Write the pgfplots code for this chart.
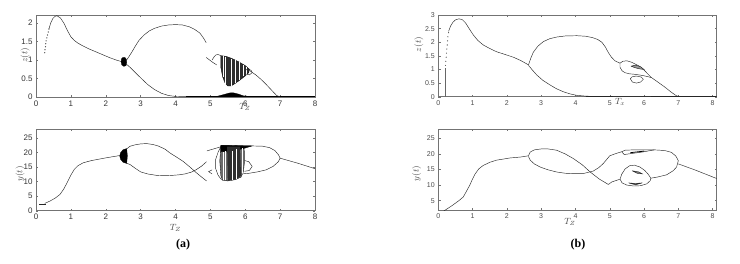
\documentclass[border=0pt]{standalone}
\usepackage{pgfplots}
\pgfplotsset{compat=1.18}
\usepackage{fontspec}
\setmainfont{Liberation Sans}
\newfontfamily\capfont{Liberation Serif}
\begin{document}
\begin{tikzpicture}
\path[use as bounding box] (0pt,0pt) rectangle (740pt,263pt);
\pgfplotsset{
  panel/.style={scale only axis, anchor=south west, xmin=0, xmax=8, xtick={0,1,...,8},
    tick align=inside, tick pos=both, major tick length=2.2pt,
    axis line style={black!55, line width=0.5pt}, tick style={black!55, line width=0.4pt},
    tick label style={font=\fontsize{8}{9}\selectfont, text=black!80},
    /pgf/number format/assume math mode=true,
    label style={font=\fontsize{9}{10}\selectfont, text=black!70}},
  panelb/.style={panel, tick label style={font=\fontsize{7}{8}\selectfont, text=black!70}},
  cl/.style={black!85, line width=0.45pt, no markers},
  fl/.style={draw=black, line width=0.3pt, fill=black},
  wl/.style={white, line width=0.3pt, no markers},
}
% ---------------- (a) top ----------------
\begin{axis}[panel, at={(36pt,166pt)}, width=279pt, height=82pt,
  ymin=0, ymax=2.22, ytick={0,0.5,1,1.5,2}, yticklabels={0,0.5,1,1.5,2},
  xlabel={$T_Z$}, ylabel={$z(t)$},
  xlabel style={at={(axis description cs:0.749,-0.118)}, anchor=center},
  ylabel style={at={(axis description cs:-0.039,0.51)}, anchor=center}]
\addplot[only marks, mark=*, mark size=0.35pt, black!70] coordinates {(0.25,1.2)(0.26,1.28)(0.27,1.36)(0.28,1.44)(0.29,1.52)(0.31,1.6)(0.33,1.68)(0.35,1.76)(0.37,1.84)};
\addplot[cl] coordinates {(0.37,1.84)(0.42,2.0)(0.48,2.12)(0.54,2.18)(0.6,2.2)(0.7,2.14)(0.8,2.0)(0.9,1.8)(1.0,1.63)(1.1,1.53)(1.2,1.46)(1.35,1.38)(1.5,1.31)(1.7,1.23)(1.9,1.15)(2.1,1.07)(2.3,1.0)(2.45,0.96)};
\addplot[fl] coordinates {(2.44,0.95)(2.45,1.03)(2.49,1.07)(2.55,1.07)(2.59,1.02)(2.6,0.93)(2.58,0.85)(2.52,0.83)(2.46,0.87)(2.44,0.95)};
\addplot[cl] coordinates {(2.58,0.98)(2.65,1.07)(2.75,1.22)(2.85,1.38)(2.95,1.53)(3.1,1.68)(3.25,1.79)(3.4,1.86)(3.6,1.92)(3.8,1.95)(4.0,1.96)(4.2,1.95)(4.4,1.9)(4.55,1.83)(4.7,1.73)(4.8,1.6)(4.88,1.47)};
\addplot[cl] coordinates {(2.58,0.9)(2.7,0.8)(2.85,0.66)(3.0,0.52)(3.2,0.34)(3.4,0.2)(3.6,0.1)(3.8,0.04)(4.0,0.015)(4.3,0.008)(5.0,0.008)};
\addplot[black, line width=0.5pt, no markers] coordinates {(4.3,0.008)(6.8,0.008)};
\addplot[black, line width=0.9pt, no markers] coordinates {(6.8,0.01)(8,0.01)};
\addplot[fl] coordinates {(4.95,0.005)(5.2,0.02)(5.4,0.07)(5.55,0.11)(5.65,0.115)(5.8,0.08)(5.95,0.03)(6.3,0.005)(4.95,0.005)};
\addplot[cl] coordinates {(4.88,1.07)(4.98,1.0)(5.08,0.93)(5.18,0.87)};
\addplot[cl] coordinates {(5.05,1.0)(5.1,1.08)(5.16,1.14)(5.22,1.15)(5.3,1.12)};
\addplot[draw=black, line width=0.3pt, fill=black!82] coordinates {(5.3,1.12)(5.45,1.1)(5.6,1.05)(5.8,0.96)(6.0,0.85)(6.12,0.75)(6.1,0.66)(6.0,0.57)(5.85,0.46)(5.7,0.36)(5.6,0.3)(5.5,0.3)(5.42,0.38)(5.35,0.55)(5.3,0.8)(5.3,1.12)};
\addplot[white, line width=0.8pt, no markers] coordinates {(5.44,0.36)(5.44,1.09)};
\addplot[white, line width=0.6pt, no markers] coordinates {(5.83,0.45)(5.83,0.94)};
\addplot[wl] coordinates {(5.36,0.55)(5.36,1.1)};
\addplot[wl] coordinates {(5.6,0.31)(5.6,1.04)};
\addplot[wl] coordinates {(5.7,0.37)(5.7,1.0)};
\addplot[wl] coordinates {(5.95,0.56)(5.95,0.87)};
\addplot[wl] coordinates {(6.04,0.6)(6.04,0.82)};
\addplot[cl] coordinates {(6.0,0.72)(6.08,0.76)(6.17,0.72)(6.2,0.66)(6.12,0.6)(6.02,0.62)};
\addplot[cl] coordinates {(6.12,0.72)(6.3,0.6)(6.45,0.48)(6.6,0.34)(6.75,0.19)(6.9,0.04)(7.0,0.005)};
\end{axis}
% ---------------- (a) bottom ----------------
\begin{axis}[panel, at={(36pt,52.3pt)}, width=279pt, height=81.7pt,
  ymin=0, ymax=28, ytick={0,5,...,25},
  xlabel={$T_Z$}, ylabel={$y(t)$},
  xlabel style={at={(axis description cs:0.5,-0.215)}, anchor=center},
  ylabel style={at={(axis description cs:-0.057,0.45)}, anchor=center}]
\addplot[cl] coordinates {(0.1,2.2)(0.28,2.2)};
\addplot[cl] coordinates {(0.25,2.5)(0.4,3.3)(0.55,4.3)(0.69,5.6)(0.8,7.5)(0.9,9.8)(1.0,12.2)(1.1,14.2)(1.2,15.4)(1.35,16.4)(1.5,16.9)(1.6,17.2)(2.0,18.1)(2.4,18.9)};
\addplot[fl] coordinates {(2.6,21.3)(2.5,20.9)(2.43,20.0)(2.4,18.8)(2.43,17.5)(2.5,16.6)(2.6,16.2)(2.62,18.8)(2.6,21.3)};
\addplot[cl] coordinates {(2.6,21.2)(2.7,22.1)(2.85,22.6)(3.0,22.9)(3.17,23.0)(3.35,22.7)(3.5,22.2)(3.7,21.1)(3.84,19.8)(4.0,18.6)(4.22,16.9)(4.4,15.1)(4.56,13.4)(4.72,11.8)(4.89,10.2)};
\addplot[cl] coordinates {(2.6,16.3)(2.7,15.8)(2.85,14.5)(3.0,13.3)(3.2,12.6)(3.46,12.1)(3.7,12.0)(3.9,12.1)(4.1,12.3)(4.27,12.6)(4.45,13.2)(4.6,14.1)(4.75,15.3)(4.89,16.8)};
\addplot[cl] coordinates {(4.9,20.5)(5.1,21.2)(5.3,21.9)};
\addplot[cl] coordinates {(5.3,21.9)(5.22,20)(5.15,17.5)(5.15,14.5)(5.22,12.2)(5.32,10.6)};
\addplot[cl] coordinates {(5.05,12.6)(4.95,13.4)(5.05,14.0)};
\addplot[draw=black, line width=0.3pt, fill=black!58] coordinates {(5.3,22.3)(5.6,22.3)(5.95,22.2)(5.98,20)(5.98,17)(5.95,13.5)(5.88,11.5)(5.7,10.6)(5.5,10.2)(5.35,10.4)(5.3,12)(5.27,17)(5.3,22.3)};
\addplot[fl] coordinates {(5.3,22.4)(6.2,22.2)(5.95,21.3)(5.6,20.4)(5.3,20.2)(5.3,22.4)};
\addplot[draw=none, fill=black!82] coordinates {(5.48,22)(5.85,22)(5.88,12)(5.75,10.8)(5.5,10.3)(5.48,22)};
\addplot[white, line width=0.8pt, no markers] coordinates {(5.44,10.6)(5.44,20.4)};
\addplot[wl] coordinates {(5.36,10.6)(5.36,20.2)};
\addplot[wl] coordinates {(5.62,10.5)(5.62,20.6)};
\addplot[wl] coordinates {(5.74,10.8)(5.74,21.0)};
\addplot[wl] coordinates {(5.92,12.5)(5.92,21.5)};
\addplot[cl] coordinates {(5.98,17.2)(6.1,16.8)(6.2,15.2)(6.12,13.8)(5.98,13.5)};
\addplot[cl] coordinates {(5.9,22.2)(6.2,22.2)(6.5,22.1)(6.7,21.6)(6.85,20.6)(6.95,19.2)(7.0,18)};
\addplot[cl] coordinates {(5.88,12.6)(6.1,12.8)(6.35,13.3)(6.6,14.0)(6.8,15.2)(6.95,16.8)(7.0,18)};
\addplot[cl] coordinates {(7.0,18)(7.5,16.3)(8.0,14.4)};
\end{axis}
% ---------------- (b) top ----------------
\begin{axis}[panelb, at={(438.3pt,166.3pt)}, width=278.4pt, height=81.7pt, xmax=8.12,
  ymin=0, ymax=3, ytick={0,0.5,...,3}, yticklabels={0,0.5,1,1.5,2,2.5,3},
  xlabel={$T_x$}, ylabel={$z(t)$},
  xlabel style={at={(axis description cs:0.653,-0.06)}, anchor=center},
  ylabel style={at={(axis description cs:-0.07,0.64)}, anchor=center}]
\addplot[black!60, line width=0.35pt, no markers] coordinates {(0.2,0)(0.2,1.05)};
\addplot[only marks, mark=*, mark size=0.3pt, black!70] coordinates {(0.21,1.15)(0.22,1.3)(0.23,1.45)(0.24,1.6)(0.25,1.75)(0.26,1.9)(0.27,2.05)(0.28,2.2)(0.3,2.35)};
\addplot[cl] coordinates {(0.3,2.4)(0.36,2.6)(0.43,2.74)(0.5,2.82)(0.6,2.86)(0.7,2.83)(0.8,2.7)(0.9,2.5)(1.02,2.27)(1.15,2.07)(1.31,1.9)(1.5,1.77)(1.7,1.65)(1.95,1.55)(2.19,1.45)(2.4,1.33)(2.63,1.17)};
\addplot[cl] coordinates {(2.63,1.17)(2.7,1.42)(2.77,1.63)(2.9,1.85)(3.06,2.02)(3.25,2.13)(3.45,2.19)(3.7,2.23)(4.04,2.24)(4.3,2.22)(4.5,2.17)(4.65,2.1)(4.77,2.0)(4.87,1.83)(4.96,1.62)(5.05,1.45)(5.15,1.32)(5.3,1.23)};
\addplot[cl] coordinates {(2.63,1.15)(2.75,0.97)(2.87,0.8)(3.05,0.6)(3.26,0.43)(3.45,0.29)(3.65,0.18)(3.85,0.1)(4.04,0.05)(4.3,0.02)(4.6,0.01)};
\addplot[cl] coordinates {(4.3,0.01)(8.12,0.01)};
\addplot[black!80, line width=1.1pt, no markers] coordinates {(5.1,0.02)(6.2,0.02)};
\addplot[cl] coordinates {(5.3,1.23)(5.38,1.3)(5.5,1.32)(5.65,1.26)(5.85,1.13)(6.0,0.98)(6.1,0.85)(6.22,0.7)};
\addplot[cl] coordinates {(5.3,1.23)(5.3,1.08)(5.36,0.95)(5.45,0.88)(5.58,0.84)(5.75,0.82)(5.95,0.78)(6.1,0.74)(6.22,0.7)};
\addplot[cl] coordinates {(5.6,0.66)(5.65,0.73)(5.78,0.76)(5.92,0.72)(5.98,0.64)(5.9,0.54)(5.78,0.5)(5.66,0.54)(5.6,0.66)};
\addplot[draw=black!85, line width=0.45pt, fill=black!40] coordinates {(5.62,1.12)(5.75,1.16)(5.9,1.1)(6.0,1.0)(5.88,1.02)(5.75,1.06)(5.62,1.12)};
\addplot[cl] coordinates {(6.22,0.7)(6.4,0.54)(6.6,0.36)(6.8,0.16)(6.95,0.03)(7.02,0.01)};
\end{axis}
% ---------------- (b) bottom ----------------
\begin{axis}[panelb, at={(438.3pt,53pt)}, width=278.4pt, height=81pt, xmax=8.12,
  ymin=2, ymax=28, ytick={5,10,...,25},
  xlabel={$T_Z$}, ylabel={$y(t)$},
  xlabel style={at={(axis description cs:0.473,-0.15)}, anchor=center},
  ylabel style={at={(axis description cs:-0.078,0.45)}, anchor=center}]
\addplot[cl] coordinates {(0.15,1.6)(0.4,3.4)(0.6,5.0)(0.73,6.2)(0.82,8.0)(0.92,10.0)(1.0,12.0)(1.07,13.5)(1.18,15.2)(1.31,16.3)(1.5,17.3)(1.7,18.0)(2.09,18.7)(2.4,19.0)(2.63,19.4)};
\addplot[cl] coordinates {(2.63,19.4)(2.68,20.6)(2.8,21.3)(3.0,21.6)(3.2,21.6)(3.45,21.2)(3.7,20.0)(3.94,18.5)(4.2,16.5)(4.43,14.2)(4.7,11.9)(4.96,10.2)(5.06,11.0)(5.3,11.9)};
\addplot[cl] coordinates {(2.63,19.2)(2.68,18.0)(2.8,16.8)(2.97,15.8)(3.2,14.9)(3.45,14.2)(3.7,13.8)(3.9,13.7)(4.23,13.7)(4.52,14.5)(4.68,15.6)(4.81,16.9)(5.0,19.4)(5.2,20.2)(5.35,20.7)};
\addplot[cl] coordinates {(5.35,20.7)(5.45,21.2)(5.7,21.3)(6.0,21.3)(6.3,21.3)(6.6,21.1)(6.8,20.5)(6.93,19.3)(7.0,17.8)};
\addplot[cl] coordinates {(5.35,20.7)(5.42,19.8)(5.55,20.0)(5.75,20.3)(5.95,20.6)(6.15,21.0)(6.3,21.3)};
\addplot[black, line width=0.8pt, no markers] coordinates {(5.6,20.4)(6.0,20.9)};
\addplot[cl] coordinates {(5.3,11.9)(5.35,13.5)(5.45,15.2)(5.58,16.2)(5.72,16.4)(5.88,15.8)(6.02,14.7)(6.12,13.5)(6.2,12.2)};
\addplot[cl] coordinates {(5.3,11.9)(5.36,10.7)(5.5,10.0)(5.7,9.7)(5.9,9.8)(6.08,10.4)(6.18,11.4)(6.2,12.2)};
\addplot[draw=black!85, line width=0.45pt, fill=black!50] coordinates {(5.65,14.6)(5.8,13.8)(5.95,13.6)(5.85,14.2)(5.65,14.6)};
\addplot[draw=black!85, line width=0.45pt, fill=black!60] coordinates {(5.55,10.7)(5.75,10.5)(5.95,10.7)(5.75,10.1)(5.55,10.7)};
\addplot[cl] coordinates {(6.2,12.2)(6.4,12.6)(6.66,13.3)(6.85,14.6)(6.95,15.8)(7.0,17.8)};
\addplot[cl] coordinates {(7.0,16.8)(7.5,14.8)(8.12,12.1)};
\end{axis}
\node[font=\capfont\bfseries\fontsize{12}{14}\selectfont] at (183pt,18pt) {(a)};
\node[font=\capfont\bfseries\fontsize{12}{14}\selectfont] at (578pt,18pt) {(b)};
\end{tikzpicture}
\end{document}
